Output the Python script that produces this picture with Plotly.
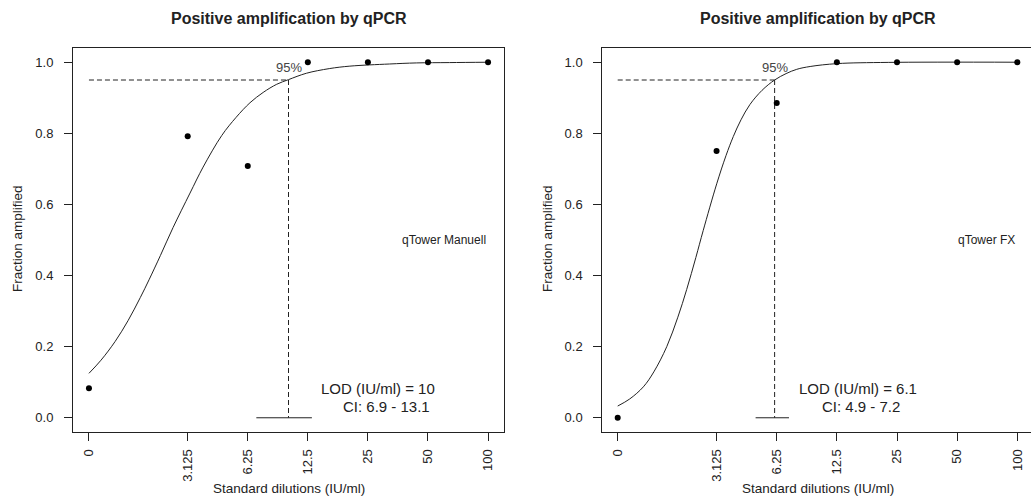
import math
import plotly.graph_objects as go

# ---------------- data ----------------
dilutions = [0, 3.125, 6.25, 12.5, 25, 50, 100]          # IU/ml
tick_labels = ["0", "3.125", "6.25", "12.5", "25", "50", "100"]
y_ticks = [0.0, 0.2, 0.4, 0.6, 0.8, 1.0]

manuell_frac = [0.083, 0.792, 0.708, 1.0, 1.0, 1.0, 1.0]
fx_frac = [0.0, 0.75, 0.885, 1.0, 1.0, 1.0, 1.0]

# fitted curves (x on the dilution axis, "0" drawn at 1)
manuell_curve_x = [1.0, 1.149, 1.354, 1.569, 1.808, 2.0, 2.279, 2.639, 3.21, 3.732, 4.63,
                   5.464, 6.41, 7.464, 8.73, 10.0, 12.3, 16.0, 20.3, 32.0, 43.7, 64.0, 100.0]
manuell_curve_y = [0.125, 0.162, 0.215, 0.273, 0.338, 0.388, 0.456, 0.535, 0.632, 0.705, 0.794,
                   0.845, 0.886, 0.915, 0.938, 0.951, 0.969, 0.982, 0.989, 0.995, 0.998, 0.999, 1.0]
fx_curve_x = [1.0, 1.149, 1.344, 1.516, 1.76, 2.0, 2.215, 2.462, 2.68, 3.13, 3.482, 3.79,
              4.141, 4.59, 5.278, 6.1, 6.964, 7.87, 9.19, 12.5, 22.6, 100.0]
fx_curve_y = [0.033, 0.053, 0.087, 0.129, 0.200, 0.283, 0.361, 0.451, 0.527, 0.658, 0.737, 0.791,
              0.838, 0.881, 0.921, 0.950, 0.968, 0.980, 0.988, 0.996, 0.9995, 1.0]

manuell_lod = 10
manuell_ci = [6.9, 13.1]
fx_lod = 6.1
fx_ci = [4.9, 7.2]
target_frac = 0.95

panel_title = "Positive amplification by qPCR"
x_title = "Standard dilutions (IU/ml)"
y_title = "Fraction amplified"
instrument_names = ["qTower Manuell", "qTower FX"]
lod_texts = ["LOD (IU/ml) = 10", "LOD (IU/ml) = 6.1"]
ci_texts = ["CI: 6.9 - 13.1", "CI: 4.9 - 7.2"]

# ---------------- styling ----------------
W, H = 1031, 497
INK = "#222222"
FONT = "Liberation Sans, Arial, Helvetica, sans-serif"


def pos(d):
    # zero dilution is drawn at 1 on the log axis
    return 1.0 if d == 0 else d


def px_x(p):
    return p / W


def px_y(p):
    return 1 - p / H


fig = go.Figure()

panels = [
    dict(xa="x", ya="y", frac=manuell_frac, cx=manuell_curve_x, cy=manuell_curve_y,
         lod=manuell_lod, ci=manuell_ci),
    dict(xa="x2", ya="y2", frac=fx_frac, cx=fx_curve_x, cy=fx_curve_y,
         lod=fx_lod, ci=fx_ci),
]

for p in panels:
    fig.add_trace(go.Scatter(x=p["cx"], y=p["cy"], mode="lines",
                             line=dict(color=INK, width=1, shape="spline", smoothing=1.0),
                             xaxis=p["xa"], yaxis=p["ya"], hoverinfo="skip"))
    fig.add_trace(go.Scatter(x=[pos(dilutions[0]), p["lod"]], y=[target_frac, target_frac],
                             mode="lines", line=dict(color=INK, width=1, dash="5px,3px"),
                             xaxis=p["xa"], yaxis=p["ya"], hoverinfo="skip"))
    fig.add_trace(go.Scatter(x=[p["lod"], p["lod"]], y=[target_frac, 0],
                             mode="lines", line=dict(color=INK, width=1, dash="5px,3px"),
                             xaxis=p["xa"], yaxis=p["ya"], hoverinfo="skip"))
    fig.add_trace(go.Scatter(x=p["ci"], y=[0, 0], mode="lines",
                             line=dict(color=INK, width=1),
                             xaxis=p["xa"], yaxis=p["ya"], hoverinfo="skip"))
    fig.add_trace(go.Scatter(x=[pos(d) for d in dilutions], y=p["frac"], mode="markers",
                             marker=dict(color="black", size=6),
                             xaxis=p["xa"], yaxis=p["ya"]))

tickvals = [pos(d) for d in dilutions]

xcommon = dict(type="log", tickvals=tickvals, ticktext=tick_labels, tickangle=-90,
               showgrid=False, zeroline=False, showline=True, linecolor=INK, linewidth=1,
               mirror=True, ticks="outside", ticklen=8, tickcolor=INK, tickwidth=1,
               tickfont=dict(family=FONT, size=13, color=INK), ticklabelstandoff=3,
               automargin=False)
ycommon = dict(range=[-0.04, 1.04], tickvals=y_ticks, tickformat=".1f",
               showgrid=False, zeroline=False, showline=True, linecolor=INK, linewidth=1,
               ticks="outside", ticklen=8, tickcolor=INK, tickwidth=1,
               tickfont=dict(family=FONT, size=13, color=INK), ticklabelstandoff=8,
               automargin=False)

ydom = [65 / H, 449 / H]
fig.update_layout(
    width=W, height=H,
    margin=dict(l=0, r=0, t=0, b=0),
    paper_bgcolor="white", plot_bgcolor="white",
    showlegend=False,
    font=dict(family=FONT, color=INK),
    xaxis=dict(xcommon, domain=[73 / W, 504 / W], range=[-0.08, 2.08], anchor="y"),
    yaxis=dict(ycommon, domain=ydom, anchor="x", mirror=True),
    xaxis2=dict(xcommon, domain=[602.3 / W, 1.0], range=[-0.0771, 2.0686], anchor="y2"),
    yaxis2=dict(ycommon, domain=ydom, anchor="x2", mirror=False),
)

ann = []
title_cx = [288.5, 818]
ytitle_cx = [18, 548]
lod_cx = [377.5, 857.5]
ci_cx = [386, 860.5]
for i, p in enumerate(panels):
    ann.append(dict(text=f"<b>{panel_title}</b>", x=px_x(title_cx[i]), y=px_y(18),
                    xref="paper", yref="paper", showarrow=False,
                    xanchor="center", yanchor="middle",
                    font=dict(family=FONT, size=16, color=INK)))
    ann.append(dict(text=x_title, x=px_x(title_cx[i]), y=px_y(488),
                    xref="paper", yref="paper", showarrow=False,
                    xanchor="center", yanchor="middle",
                    font=dict(family=FONT, size=13.5, color=INK)))
    ann.append(dict(text=y_title, x=px_x(ytitle_cx[i]), y=px_y(239), textangle=-90,
                    xref="paper", yref="paper", showarrow=False,
                    xanchor="center", yanchor="middle",
                    font=dict(family=FONT, size=13.5, color=INK)))
    ann.append(dict(text="95%", x=math.log10(p["lod"]), y=target_frac,
                    xref=p["xa"], yref=p["ya"], showarrow=False, yshift=12,
                    xanchor="center", yanchor="middle",
                    font=dict(family=FONT, size=13, color="#444444")))
    ann.append(dict(text=instrument_names[i], x=math.log10(dilutions[-1]), y=0.5,
                    xref=p["xa"], yref=p["ya"], showarrow=False,
                    xanchor="right", yanchor="middle",
                    font=dict(family=FONT, size=12, color=INK)))
    ann.append(dict(text=lod_texts[i], x=px_x(lod_cx[i]), y=px_y(388.3),
                    xref="paper", yref="paper", showarrow=False,
                    xanchor="center", yanchor="middle",
                    font=dict(family=FONT, size=15, color=INK)))
    ann.append(dict(text=ci_texts[i], x=px_x(ci_cx[i]), y=px_y(406.7),
                    xref="paper", yref="paper", showarrow=False,
                    xanchor="center", yanchor="middle",
                    font=dict(family=FONT, size=15, color=INK)))

fig.update_layout(annotations=ann)

fig.write_html(
    "out.html",
    config={"displayModeBar": False},
    post_script="document.body.style.margin='0';document.body.style.padding='0';"
                "document.body.style.overflow='hidden';",
)
